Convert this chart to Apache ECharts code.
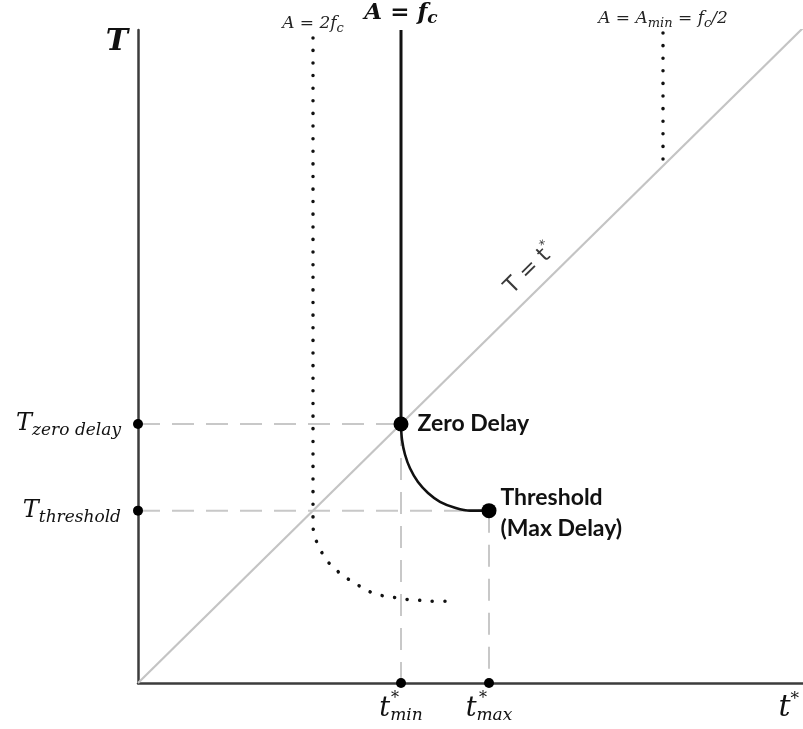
<!DOCTYPE html>
<html>
<head>
<meta charset="utf-8">
<script src="https://cdn.jsdelivr.net/npm/echarts@6/dist/echarts.min.js"></script>
<style>
  html, body { margin: 0; padding: 0; background: #ffffff; }
  #chart { width: 803px; height: 729px; }
</style>
</head>
<body>
<div id="chart"></div>
<script>
// Axis extents (t* horizontally, T vertically)
const tStarMax = 665;
const TMax = 663;

// Reference points on the t* axis: t*_min, t*_max
const tStarMarks = [263, 351];
const tStarSubs = ['min', 'max'];

// Reference levels on the T axis: T_zero delay, T_threshold
const TMarks = [263, 175];
const TSubs = ['zero delay', 'threshold'];

// Diagonal T = t*
const diagonal = [[0, 0], [665, 665]];

// A = f_c : vertical branch, then the delay curve down to the threshold
const fcVertical = [[263, 663], [263, 263]];
const fcCurve = [[263, 263], [264, 247], [267, 232], [272, 218], [280, 204], [290, 193],
                 [302, 184], [317, 178], [332, 175], [351, 175]];

// A = 2 f_c (dotted)
const twoFcCurve = [[175, 655], [175, 160], [177, 148], [183, 134], [190, 123], [199, 114],
                    [208, 107], [219, 100], [231, 93], [243, 89], [255, 87], [268, 85],
                    [281, 84], [293, 83], [307, 83]];

// A = A_min = f_c/2 (dotted, ends on the diagonal)
const aMinLine = [[525, 660], [525, 525]];

// Operating points
const zeroDelayPoint = [263, 263];
const thresholdPoint = [351, 175];

const serif = '"DejaVu Serif", serif';
const sans = 'Lato, "Open Sans", sans-serif';

const dashGray = { color: '#c8c8c8', width: 2, type: [22, 12] };
const dotted = { color: '#111', width: 3.5, type: [0.1, 12.5], cap: 'round' };
const solidDot = { color: '#000', opacity: 1 };

function lineSeries(data, lineStyle, z) {
  return {
    type: 'line', data: data, symbol: 'none', silent: true, z: z,
    lineStyle: lineStyle, animation: false
  };
}

const option = {
  animation: false,
  grid: { left: 138, right: 0, top: 30, bottom: 46 },
  xAxis: {
    type: 'value', min: 0, max: tStarMax,
    axisLine: { show: true, onZero: false, lineStyle: { color: '#3c3c3c', width: 2.5 } },
    axisTick: { show: false }, axisLabel: { show: false }, splitLine: { show: false },
    name: '{t|t}{sup|*}', nameLocation: 'end', nameGap: -4,
    nameTextStyle: {
      align: 'right', verticalAlign: 'top', padding: [8, 0, 0, 0],
      rich: {
        t: { fontFamily: serif, fontStyle: 'italic', fontSize: 30, color: '#111' },
        sup: { fontFamily: serif, fontSize: 17, color: '#111', verticalAlign: 'top', lineHeight: 34 }
      }
    }
  },
  yAxis: {
    type: 'value', min: 0, max: TMax,
    axisLine: { show: true, onZero: false, lineStyle: { color: '#3c3c3c', width: 2.5 } },
    axisTick: { show: false }, axisLabel: { show: false }, splitLine: { show: false },
    name: 'T', nameLocation: 'end', nameGap: -2,
    nameTextStyle: {
      align: 'right', verticalAlign: 'top', padding: [-5, 10, 0, 0],
      fontFamily: serif, fontStyle: 'italic', fontWeight: 'bold', fontSize: 30, color: '#111'
    }
  },
  series: [
    // guide lines
    lineSeries([[0, TMarks[0]], [zeroDelayPoint[0], TMarks[0]]], dashGray, 1),
    lineSeries([[0, TMarks[1]], [thresholdPoint[0], TMarks[1]]], dashGray, 1),
    lineSeries([[tStarMarks[0], zeroDelayPoint[1]], [tStarMarks[0], 0]], dashGray, 1),
    lineSeries([[tStarMarks[1], thresholdPoint[1]], [tStarMarks[1], 0]], dashGray, 1),
    // T = t*
    lineSeries(diagonal, { color: '#c4c4c4', width: 2.2 }, 2),
    // A = f_c
    lineSeries(fcVertical, { color: '#111', width: 3 }, 3),
    Object.assign(lineSeries(fcCurve, { color: '#111', width: 2.6 }, 3), { smooth: 0.35 }),
    // A = 2 f_c
    Object.assign(lineSeries(twoFcCurve, dotted, 3), { smooth: 0.3 }),
    // A = A_min
    lineSeries(aMinLine, dotted, 3),
    // marks on the T axis
    {
      type: 'scatter', z: 5, symbolSize: 10, itemStyle: solidDot, silent: true,
      data: TMarks.map(v => [0, v]),
      label: {
        show: true, position: 'left', distance: 12, opacity: 1,
        formatter: p => '{T|T}{s|' + TSubs[p.dataIndex] + '}',
        rich: {
          T: { fontFamily: serif, fontStyle: 'italic', fontSize: 24, color: '#111', lineHeight: 30 },
          s: { fontFamily: serif, fontStyle: 'italic', fontSize: 17, color: '#111', lineHeight: 18, verticalAlign: 'bottom' }
        }
      }
    },
    // marks on the t* axis
    {
      type: 'scatter', z: 5, symbolSize: 10, itemStyle: solidDot, silent: true,
      data: tStarMarks.map(v => [v, 0]),
      label: {
        show: true, position: 'bottom', distance: 6, opacity: 1,
        formatter: p => '{t|t}{s|' + tStarSubs[p.dataIndex] + '}',
        rich: {
          t: { fontFamily: serif, fontStyle: 'italic', fontSize: 27, color: '#111', lineHeight: 30 },
          s: { fontFamily: serif, fontStyle: 'italic', fontSize: 17, color: '#111', lineHeight: 18, verticalAlign: 'bottom' }
        }
      }
    },
    {
      type: 'scatter', z: 6, symbolSize: 0, silent: true, itemStyle: solidDot,
      data: tStarMarks.map(v => [v, 0]),
      label: {
        show: true, position: 'bottom', distance: 8, offset: [-6, 0], opacity: 1,
        formatter: '*', fontFamily: serif, fontSize: 16, color: '#111'
      }
    },
    // operating points
    {
      type: 'scatter', z: 6, symbolSize: 15, itemStyle: solidDot, silent: true,
      data: [zeroDelayPoint],
      label: {
        show: true, position: 'right', distance: 9, formatter: 'Zero Delay', opacity: 1,
        fontFamily: sans, fontWeight: 'bold', fontSize: 23, color: '#111'
      }
    },
    {
      type: 'scatter', z: 6, symbolSize: 15, itemStyle: solidDot, silent: true,
      data: [thresholdPoint],
      label: {
        show: true, position: 'right', distance: 4, formatter: 'Threshold\n(Max Delay)', opacity: 1,
        fontFamily: sans, fontWeight: 'bold', fontSize: 23, lineHeight: 31, color: '#111',
        align: 'left', offset: [0, 2]
      }
    },
    // curve captions above the top of each line
    {
      type: 'scatter', z: 6, symbolSize: 0, silent: true, itemStyle: solidDot,
      data: [twoFcCurve[0], fcVertical[0], aMinLine[0]],
      label: {
        show: true, position: 'top', distance: 3, opacity: 1,
        formatter: p => [
          '{m|A = 2f}{ms|c}',
          '{b|A = f}{bs|c}',
          '{m|A = A}{ms|min}{m| = f}{ms|c}{m|/2}'
        ][p.dataIndex],
        rich: {
          m: { fontFamily: serif, fontStyle: 'italic', fontSize: 17, color: '#222', lineHeight: 22 },
          ms: { fontFamily: serif, fontStyle: 'italic', fontSize: 13, color: '#222', lineHeight: 14, verticalAlign: 'bottom' },
          b: { fontFamily: serif, fontStyle: 'italic', fontWeight: 'bold', fontSize: 23, color: '#111', lineHeight: 28 },
          bs: { fontFamily: serif, fontStyle: 'italic', fontWeight: 'bold', fontSize: 17, color: '#111', lineHeight: 18, verticalAlign: 'bottom' }
        }
      }
    },
    // caption of the diagonal
    {
      type: 'scatter', z: 6, symbolSize: 0, silent: true, itemStyle: solidDot,
      data: [[392, 420]],
      label: {
        show: true, position: 'inside', rotate: 44.6, opacity: 1,
        formatter: '{a|T = t}{sup|*}',
        rich: {
          a: { fontFamily: '"DejaVu Sans", sans-serif', fontSize: 22, color: '#3a3a3a', lineHeight: 28 },
          sup: { fontFamily: '"DejaVu Sans", sans-serif', fontSize: 13, color: '#3a3a3a', lineHeight: 14, verticalAlign: 'top' }
        }
      }
    }
  ]
};

const chart = echarts.init(document.getElementById('chart'), null, { renderer: 'canvas' });
chart.setOption(option);
</script>
</body>
</html>
